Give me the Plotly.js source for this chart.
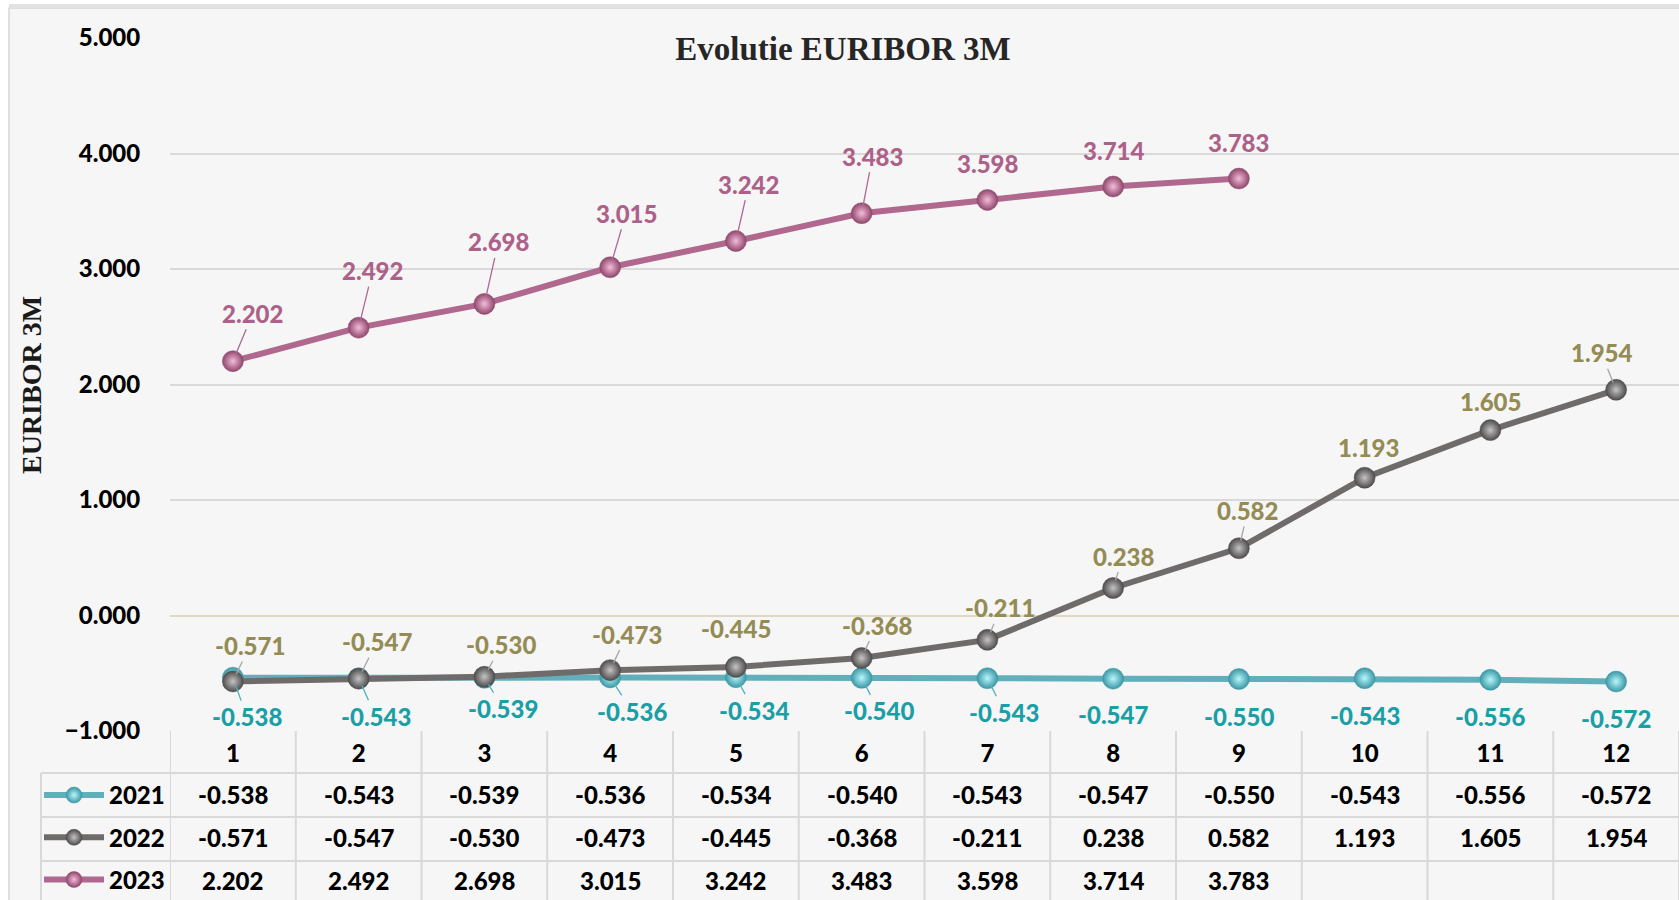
<!DOCTYPE html>
<html>
<head>
<meta charset="utf-8">
<script src="https://cdn.plot.ly/plotly-3.0.1.min.js"></script>
<style>
  html, body { margin: 0; padding: 0; background: #ffffff; }
  #chart { width: 1679px; height: 900px; }
</style>
</head>
<body>
<div id="chart"></div>
<script>
// ---------------- DATA ----------------
const months = [1, 2, 3, 4, 5, 6, 7, 8, 9, 10, 11, 12];
const eur2021 = [-0.538, -0.543, -0.539, -0.536, -0.534, -0.540, -0.543, -0.547, -0.550, -0.543, -0.556, -0.572];
const eur2022 = [-0.571, -0.547, -0.530, -0.473, -0.445, -0.368, -0.211, 0.238, 0.582, 1.193, 1.605, 1.954];
const eur2023 = [2.202, 2.492, 2.698, 3.015, 3.242, 3.483, 3.598, 3.714, 3.783];
const seriesNames = ['2021', '2022', '2023'];
const yTickVals = [-1, 0, 1, 2, 3, 4, 5];
const chartTitle = 'Evolutie EURIBOR 3M';
const yTitle = 'EURIBOR 3M';

// ---------------- STYLE / LAYOUT HELPERS ----------------
const W = 1679, H = 900;
const px = v => v / W;            // pixel x -> paper x
const py = v => 1 - v / H;        // pixel y -> paper y
const plotLeft = 170, plotTop = 38, plotBottom = 731;
const rowCenters = [794, 837, 880];
const rowLines = [773, 817, 861];

const styles = [
  { line: '#60afbb', outer: '#3a97a4', inner: '#b8f6fc', label: '#1a9fa7', leader: '#4fb0bb' },
  { line: '#6f6b6b', outer: '#4e4b4b', inner: '#c4c4c4', label: '#948b55', leader: '#a6a6a6' },
  { line: '#b0688f', outer: '#8f466c', inner: '#f3bcd9', label: '#ad6189', leader: '#b0688f' }
];

// label offsets (px) relative to each point, and whether a leader line is shown
const labelOffsets = [
  { ax: [14, 17, 19, 22, 18, 17, 17, 0, 0, 0, 0, 0], ay: [39, 38, 31, 34, 33, 33, 34, 36, 37, 37, 37, 37],
    leader: [1, 1, 1, 1, 1, 1, 1, 0, 0, 0, 0, 0] },
  { ax: [17, 18, 17, 17, 0, 15, 13, 10, 9, 4, 0, -15], ay: [-36, -37, -32, -36, -38, -33, -32, -32, -38, -30, -29, -37],
    leader: [1, 1, 1, 1, 0, 1, 1, 1, 1, 0, 0, 1] },
  { ax: [20, 14, 14, 16, 13, 11, 0, 0, 0], ay: [-48, -57, -62, -54, -57, -57, -36, -36, -36],
    leader: [1, 1, 1, 1, 1, 1, 0, 0, 0] }
];

const allSeries = [eur2021, eur2022, eur2023];
const labelFont = { family: 'Lato, "Open Sans", sans-serif', size: 24, weight: 900 };

const traces = allSeries.map((vals, i) => ({
  type: 'scatter',
  mode: 'lines+markers',
  name: seriesNames[i],
  legendgroup: 'g' + i,
  x: months.slice(0, vals.length),
  y: vals,
  line: { color: styles[i].line, width: 6 },
  marker: {
    size: 21,
    color: styles[i].outer,
    gradient: { type: 'radial', color: styles[i].inner },
    line: { color: styles[i].outer, width: 0.5 }
  },
  hoverinfo: 'x+y+name'
}));

// data labels
const annotations = [];
allSeries.forEach((vals, i) => {
  vals.forEach((v, k) => {
    annotations.push({
      x: months[k], y: v, xref: 'x', yref: 'y',
      text: v.toFixed(3),
      showarrow: true,
      arrowhead: 0,
      arrowwidth: 1.3,
      arrowcolor: labelOffsets[i].leader[k] ? styles[i].leader : 'rgba(0,0,0,0)',
      standoff: 8,
      ax: labelOffsets[i].ax[k],
      ay: labelOffsets[i].ay[k],
      font: Object.assign({}, labelFont, { color: styles[i].label })
    });
  });
});

// table values
allSeries.forEach((vals, i) => {
  vals.forEach((v, k) => {
    annotations.push({
      x: months[k], xref: 'x',
      y: py(rowCenters[i]), yref: 'paper',
      text: v.toFixed(3),
      showarrow: false,
      xanchor: 'center', yanchor: 'middle',
      font: Object.assign({}, labelFont, { color: '#000000' })
    });
  });
});

// y-axis title
annotations.push({
  x: px(31), y: py(385), xref: 'paper', yref: 'paper',
  text: yTitle, textangle: -90, showarrow: false,
  xanchor: 'center', yanchor: 'middle',
  font: { family: '"Liberation Serif", "Times New Roman", serif', size: 28, weight: 700, color: '#1a1a1a' }
});

// shapes: card + table grid
const gridCol = '#d9d9d9';
const shapes = [
  { type: 'rect', xref: 'paper', yref: 'paper', x0: px(9), x1: px(1690), y0: py(8), y1: py(910),
    fillcolor: '#f6f6f6', line: { color: '#d6d6d6', width: 1.5 }, layer: 'below' },
  { type: 'line', xref: 'paper', yref: 'paper', x0: px(9), x1: 1, y0: py(6), y1: py(6),
    line: { color: '#e2e2e2', width: 4 }, layer: 'below' }
];
// vertical column separators
[0.5].concat(months.map(m => m + 0.5)).forEach(xv => {
  shapes.push({ type: 'line', xref: 'x', yref: 'paper', x0: xv, x1: xv, y0: py(plotBottom), y1: py(905),
    line: { color: gridCol, width: 2 }, layer: 'above' });
});
// legend column left border
shapes.push({ type: 'line', xref: 'paper', yref: 'paper', x0: px(41), x1: px(41), y0: py(rowLines[0]), y1: py(905),
  line: { color: gridCol, width: 2 } });
// horizontal row separators
rowLines.forEach(yv => {
  shapes.push({ type: 'line', xref: 'paper', yref: 'paper', x0: px(41), x1: 1, y0: py(yv), y1: py(yv),
    line: { color: gridCol, width: 2 } });
});

const layout = {
  width: W, height: H,
  margin: { l: 0, r: 0, t: 0, b: 0, autoexpand: false },
  paper_bgcolor: '#ffffff',
  plot_bgcolor: 'rgba(0,0,0,0)',
  title: {
    text: chartTitle,
    x: px(843), xref: 'paper', xanchor: 'center',
    y: py(48), yref: 'paper', yanchor: 'middle',
    font: { family: '"Liberation Serif", "Times New Roman", serif', size: 33, weight: 700, color: '#262626' }
  },
  xaxis: {
    domain: [px(plotLeft), 1],
    range: [0.5, 12.5],
    tickvals: months,
    ticktext: months.map(String),
    ticks: 'outside', ticklen: 1, tickcolor: 'rgba(0,0,0,0)',
    showgrid: false, zeroline: false, showline: false,
    tickfont: Object.assign({}, labelFont, { color: '#000000' }),
    fixedrange: true, automargin: false
  },
  yaxis: {
    domain: [py(plotBottom), py(plotTop)],
    range: [-1, 5],
    tickvals: yTickVals,
    tickformat: '.3f',
    ticks: 'outside', ticklen: 24, tickcolor: 'rgba(0,0,0,0)',
    showgrid: true, gridcolor: gridCol, gridwidth: 1.5,
    zeroline: true, zerolinecolor: '#ddd9c3', zerolinewidth: 1.5,
    showline: false,
    tickfont: Object.assign({}, labelFont, { color: '#000000' }),
    fixedrange: true, automargin: false
  },
  showlegend: true,
  legend: {
    x: px(39), y: py(773), xanchor: 'left', yanchor: 'top',
    orientation: 'v',
    bgcolor: 'rgba(0,0,0,0)',
    borderwidth: 0,
    tracegroupgap: 8,
    itemwidth: 60,
    font: Object.assign({}, labelFont, { color: '#000000' })
  },
  annotations: annotations,
  shapes: shapes,
  hovermode: 'closest'
};

Plotly.newPlot('chart', traces, layout, { displayModeBar: false, responsive: false });
</script>
</body>
</html>
